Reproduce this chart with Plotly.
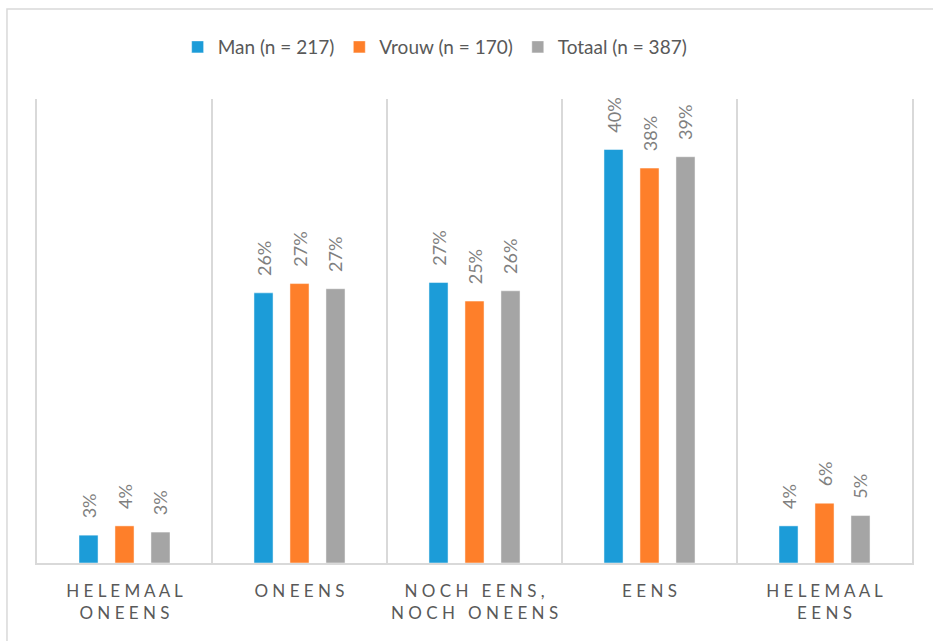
import plotly.graph_objects as go

# Answer categories (x axis)
categories = ["HELEMAAL<br>ONEENS", "ONEENS", "NOCH EENS,<br>NOCH ONEENS", "EENS", "HELEMAAL<br>EENS"]

# Percentages
man = [2.7, 26.2, 27.2, 40.1, 3.6]
vrouw = [3.6, 27.1, 25.4, 38.3, 5.8]
totaal = [3.0, 26.6, 26.4, 39.4, 4.6]

series_names = ["Man (n = 217)", "Vrouw (n = 170)", "Totaal (n = 387)"]
colors = ["#1c9cd8", "#fe7f2a", "#a5a5a5"]


def spaced(label):
    # mimic the wide letter spacing of the Excel axis labels
    out = []
    for line in label.split("<br>"):
        words = [" ".join(list(w)) for w in line.split(" ")]
        out.append("   ".join(words))
    return "<br>".join(out)


x_cats = [spaced(c) for c in categories]

fig = go.Figure()
for name, vals, col in zip(series_names, [man, vrouw, totaal], colors):
    fig.add_trace(go.Bar(
        x=x_cats,
        y=vals,
        name=name,
        marker=dict(color=col, line=dict(color="rgba(255,255,255,0.6)", width=0.8)),
        texttemplate="\u00a0\u00a0\u00a0%{y:.0f}%",
        textposition="outside",
        textangle=-90,
        constraintext="none",
        textfont=dict(family="Lato, sans-serif", size=18, color="#7f7f7f"),
        cliponaxis=False,
        hoverinfo="skip",
    ))

fig.update_layout(
    width=933,
    height=641,
    barmode="group",
    bargap=0.383,
    bargroupgap=0.47,
    plot_bgcolor="white",
    paper_bgcolor="white",
    margin=dict(l=37, r=21, t=99, b=78, autoexpand=False),
    font=dict(family="Lato, sans-serif", color="#595959"),
    legend=dict(
        orientation="h",
        x=0.455, xanchor="center",
        y=1.112, yanchor="middle",
        font=dict(size=19, color="#595959"),
        itemclick=False,
    ),
    xaxis=dict(
        type="category",
        tickson="boundaries",
        ticks="",
        tickangle=0,
        automargin=False,
        showgrid=True,
        gridcolor="#d9d9d9",
        gridwidth=1.5,
        showline=True,
        linecolor="#d9d9d9",
        linewidth=1.5,
        tickfont=dict(size=17, color="#595959"),
        ticklabelstandoff=12,
        range=[-0.5, 4.5],
    ),
    yaxis=dict(
        range=[0, 45],
        showgrid=False,
        showticklabels=False,
        zeroline=False,
        showline=True,
        mirror=True,
        linecolor="#d9d9d9",
        linewidth=1.5,
        automargin=False,
    ),
    shapes=[dict(
        type="rect", xref="paper", yref="paper",
        x0=-0.0343, x1=1.2, y0=-0.4, y1=1.194,
        line=dict(color="#d9d9d9", width=1.5),
        layer="below",
    )],
)

fig.write_html(
    "out.html",
    config={"displayModeBar": False},
    post_script="document.body.style.margin='0';",
)
